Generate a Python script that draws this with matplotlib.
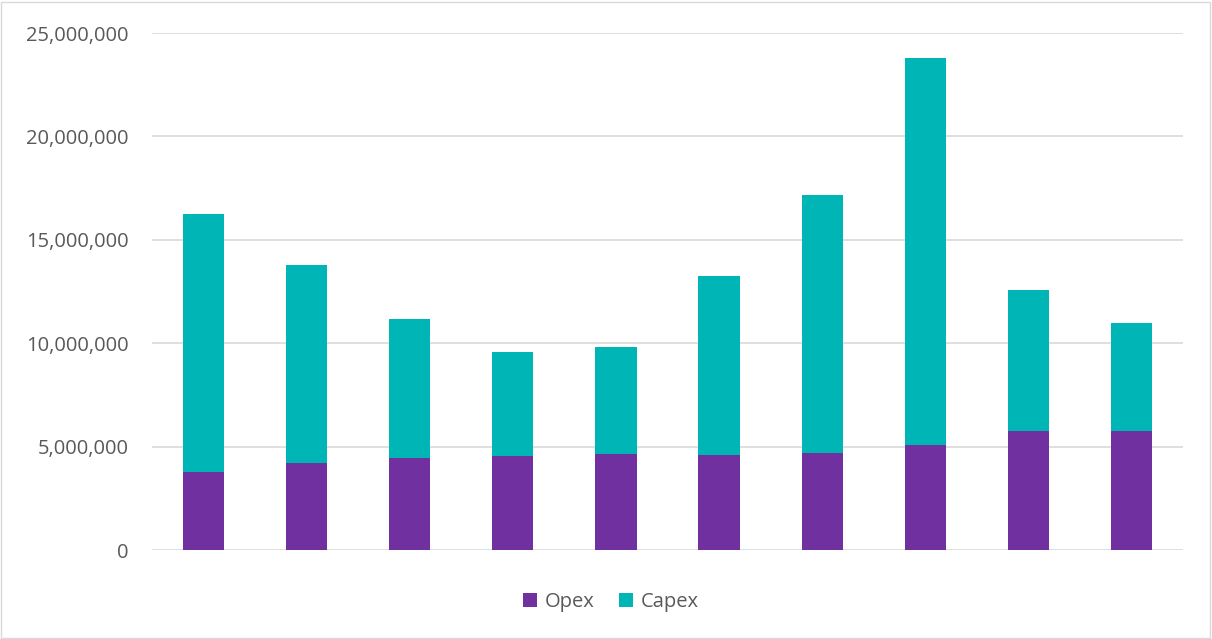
import numpy as np
import matplotlib.pyplot as plt
from matplotlib.ticker import FuncFormatter
from matplotlib.patches import Rectangle

# values (in units)
opex = [3790000, 4200000, 4470000, 4550000, 4630000, 4580000, 4680000, 5070000, 5750000, 5750000]
total = [16250000, 13780000, 11170000, 9570000, 9820000, 13250000, 17170000, 23790000, 12570000, 10980000]
capex = [t - o for t, o in zip(total, opex)]

purple = '#7030A0'
teal = '#00B5B5'
txt = '#595959'

plt.rcParams['font.family'] = ['Open Sans', 'DejaVu Sans']

fig = plt.figure(figsize=(12.12, 6.39), dpi=100)
ax = fig.add_axes([152/1212, 1-550/639, (1183-152)/1212, (550-33)/639])

x = np.arange(len(opex))
ax.bar(x, opex, width=0.4, color=purple, label='Opex', zorder=3)
ax.bar(x, capex, width=0.4, bottom=opex, color=teal, label='Capex', zorder=3)

ax.set_xlim(-0.5, len(opex) - 0.5)
ax.set_ylim(0, 25000000)
ax.set_yticks(np.arange(0, 25000001, 5000000))
ax.yaxis.set_major_formatter(FuncFormatter(lambda v, p: f'{int(v):,}'))
ax.grid(axis='y', color='#d9d9d9', linewidth=1.2, zorder=0)
ax.set_xticks([])
ax.tick_params(axis='y', length=0, pad=17, labelsize=14.5, labelcolor=txt)
for s in ax.spines.values():
    s.set_visible(False)

# outer chart border
fig.patches.append(Rectangle((0.001, 0.002), 0.997, 0.995, transform=fig.transFigure,
                             fill=False, edgecolor='#d9d9d9', linewidth=1))

fig.legend(loc='center', bbox_to_anchor=(611/1212, 1-602/639), ncol=2, frameon=False,
           fontsize=14.5, labelcolor=txt, handlelength=0.7, handleheight=0.7,
           handletextpad=0.4, columnspacing=1.2)

fig.savefig('out.png', dpi=100)
